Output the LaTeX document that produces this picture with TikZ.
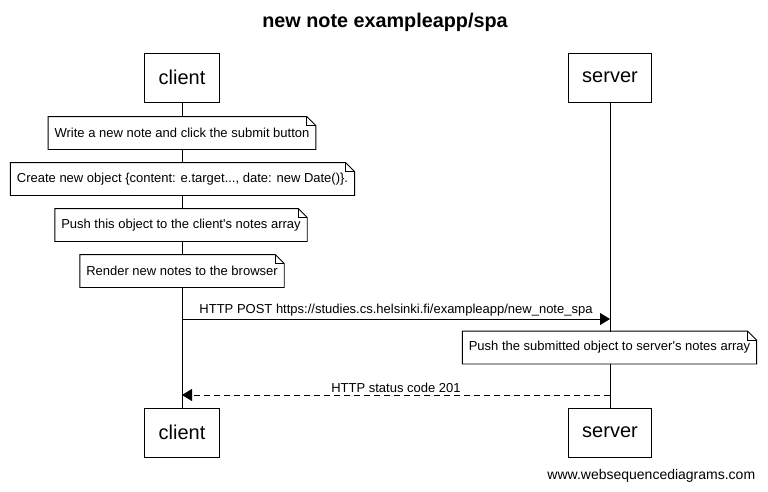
\documentclass[tikz,border=0pt]{standalone}
\usepackage{fontspec}
\setmainfont{Liberation Sans}
\usetikzlibrary{arrows.meta}

% outline of a note with a folded corner
\newcommand{\notebox}[1]{%
  \draw (#1.south west) -- (#1.north west) -- ([xshift=-9pt]#1.north east)
        -- ([yshift=-9pt]#1.north east) -- (#1.south east) -- cycle;
  \draw ([xshift=-9pt]#1.north east) |- ([yshift=-9pt]#1.north east);}

\begin{document}
\begin{tikzpicture}[x=1pt,y=-1pt,line width=0.9pt,
      actor/.style={draw,fill=white,minimum height=49pt,inner xsep=14pt,font=\fontsize{20}{24}\selectfont},
      note/.style={fill=white,minimum height=32pt,inner xsep=6pt,font=\fontsize{13}{15}\selectfont},
      msg/.style={font=\fontsize{13}{15}\selectfont,inner sep=2pt},
      reqline/.style={-{Triangle[length=10pt,width=12pt]}},
      resline/.style={dash pattern=on 6pt off 4pt,-{Triangle[length=10pt,width=12pt]}}]
  \useasboundingbox (0,0) rectangle (768,491);

  \node[font=\fontsize{19.8}{24}\selectfont\bfseries] (title) at (385,22) {new note exampleapp/spa};

  \draw (182,102) -- (182,408);
  \draw (610,102) -- (610,408);

  \node[actor] (client) at (182,77.5) {client};
  \node[actor] (server) at (610,77.5) {server};
  \node[actor] (clientb) at (182,432.5) {client};
  \node[actor] (serverb) at (610,432.5) {server};

  \node[note] (n1) at (182,133) {Write a new note and click the submit button};
  \notebox{n1}
  \node[note] (n2) at (182.5,179) {Create new object \{content: e.target..., date: new Date()\}.};
  \notebox{n2}
  \node[note] (n3) at (181,225) {Push this object to the client\textquotesingle s notes array};
  \notebox{n3}
  \node[note] (n4) at (182,271) {Render new notes to the browser};
  \notebox{n4}
  \node[note] (n5) at (609.5,347.5) {Push the submitted object to server\textquotesingle s notes array};
  \notebox{n5}

  \coordinate (c1) at (182,319);
  \coordinate (s1) at (610,319);
  \coordinate (c2) at (182,395);
  \coordinate (s2) at (610,395);
  \draw[reqline] (c1) -- node[msg,above] {HTTP POST https://studies.cs.helsinki.fi/exampleapp/new\_note\_spa} (s1);
  \draw[resline] (s2) -- node[msg,above] {HTTP status code 201} (c2);

  \node[anchor=east,font=\fontsize{14}{17}\selectfont] (footer) at (759,476) {www.websequencediagrams.com};
\end{tikzpicture}
\end{document}
